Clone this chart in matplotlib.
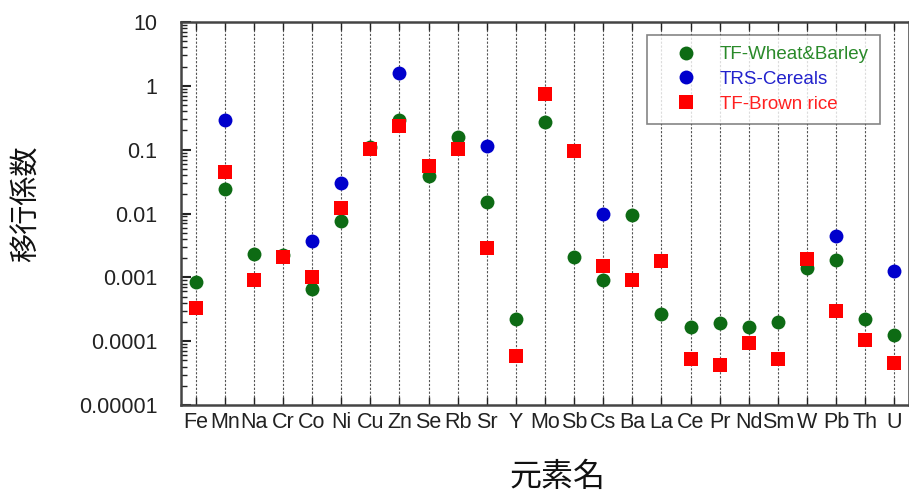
import numpy as np
import matplotlib
matplotlib.use("Agg")
import matplotlib.pyplot as plt
from matplotlib.ticker import LogLocator, FixedLocator, NullFormatter

elements = ["Fe", "Mn", "Na", "Cr", "Co", "Ni", "Cu", "Zn", "Se", "Rb", "Sr", "Y", "Mo",
            "Sb", "Cs", "Ba", "La", "Ce", "Pr", "Nd", "Sm", "W", "Pb", "Th", "U"]

tf_wheat_barley = [0.00083, 0.024, 0.0023, 0.0022, 0.00065, 0.0076, 0.11, 0.29, 0.039, 0.156,
                   0.0153, 0.000222, 0.268, 0.00206, 0.00091, 0.0095, 0.000263, 0.000167,
                   0.000192, 0.000167, 0.0002, 0.00142, 0.00187, 0.000222, 0.000123]

trs_cereals = [np.nan, 0.29, np.nan, np.nan, 0.0037, 0.0297, np.nan, 1.57, np.nan, np.nan,
               0.116, np.nan, np.nan, np.nan, 0.0098, np.nan, np.nan, np.nan,
               np.nan, np.nan, np.nan, np.nan, 0.0045, np.nan, 0.00127]

tf_brown_rice = [0.000334, 0.045, 0.00091, 0.00206, 0.001, 0.0123, 0.101, 0.235, 0.055, 0.102,
                 0.0029, 0.0000585, 0.736, 0.095, 0.00152, 0.00091, 0.00182, 0.0000525,
                 0.0000423, 0.0000925, 0.0000519, 0.00191, 0.000296, 0.000104, 0.0000459]

series_labels = ["TF-Wheat&Barley", "TRS-Cereals", "TF-Brown rice"]
ytick_labels = ["0.00001", "0.0001", "0.001", "0.01", "0.1", "1", "10"]

plt.rcParams['font.family'] = ['Liberation Sans', 'DejaVu Sans']

fig = plt.figure(figsize=(9.09, 4.95), dpi=100)
ax = fig.add_axes([181/909, 1 - 405/495, 1 - 181/909, (405 - 22)/495])

x = np.arange(len(elements))
green = "#0d6b14"
blue = "#0000cc"
red = "#ff0000"

ax.plot(x, tf_wheat_barley, 'o', color=green, markersize=10, markeredgewidth=0,
        label=series_labels[0], zorder=3)
ax.plot(x, trs_cereals, 'o', color=blue, markersize=10, markeredgewidth=0,
        label=series_labels[1], zorder=3)
ax.plot(x, tf_brown_rice, 's', color=red, markersize=9.5, markeredgewidth=0,
        label=series_labels[2], zorder=4)

ax.set_yscale('log')
ax.set_ylim(1e-5, 10)
ax.set_xlim(-0.5, len(elements) - 0.5)

yt = [1e-5, 1e-4, 1e-3, 1e-2, 1e-1, 1, 10]
ax.yaxis.set_major_locator(FixedLocator(yt))
ax.set_yticklabels(ytick_labels)
ax.yaxis.set_minor_locator(LogLocator(base=10, subs=np.arange(2, 10), numticks=20))
ax.yaxis.set_minor_formatter(NullFormatter())

ax.set_xticks(x)
ax.set_xticklabels(elements)

ax.tick_params(axis='y', which='major', direction='in', length=7, width=1.5,
               labelsize=15.5, pad=17, colors='#222222', labelcolor='#222222', right=False)
ax.tick_params(axis='y', which='minor', direction='in', length=4, width=1.0,
               colors='#222222', right=False)
ax.tick_params(axis='x', which='major', direction='in', length=6, width=1.0,
               labelsize=15.5, pad=5, top=True, colors='#222222', labelcolor='#222222')

ax.grid(axis='x', linestyle=(0, (2, 1.5)), color='#555555', linewidth=0.8)

for s in ax.spines.values():
    s.set_color('#444444')
    s.set_linewidth(1.8)

leg = ax.legend(loc='upper right', fontsize=13.5,
                frameon=True, fancybox=False, borderpad=0.6, labelspacing=0.4,
                handletextpad=0.3, borderaxespad=0.0, handlelength=3.0)
leg.set_bbox_to_anchor((880/909, 1 - 35/495), transform=fig.transFigure)
frame = leg.get_frame()
frame.set_edgecolor('#666666')
frame.set_linewidth(1.2)
for t, c in zip(leg.get_texts(), ["#2a8a2a", "#2222cc", "#ff2020"]):
    t.set_color(c)

fig.text(27/909, 1 - 204/495, "移行係数", rotation=90, ha='center', va='center',
         fontsize=21, family=['Noto Sans CJK JP', 'DejaVu Sans'], color='#111111')
fig.text(557/909, 1 - 477/495, "元素名", ha='center', va='center',
         fontsize=23, family=['Noto Sans CJK JP', 'DejaVu Sans'], color='#111111')

fig.savefig("out.png", dpi=100)
